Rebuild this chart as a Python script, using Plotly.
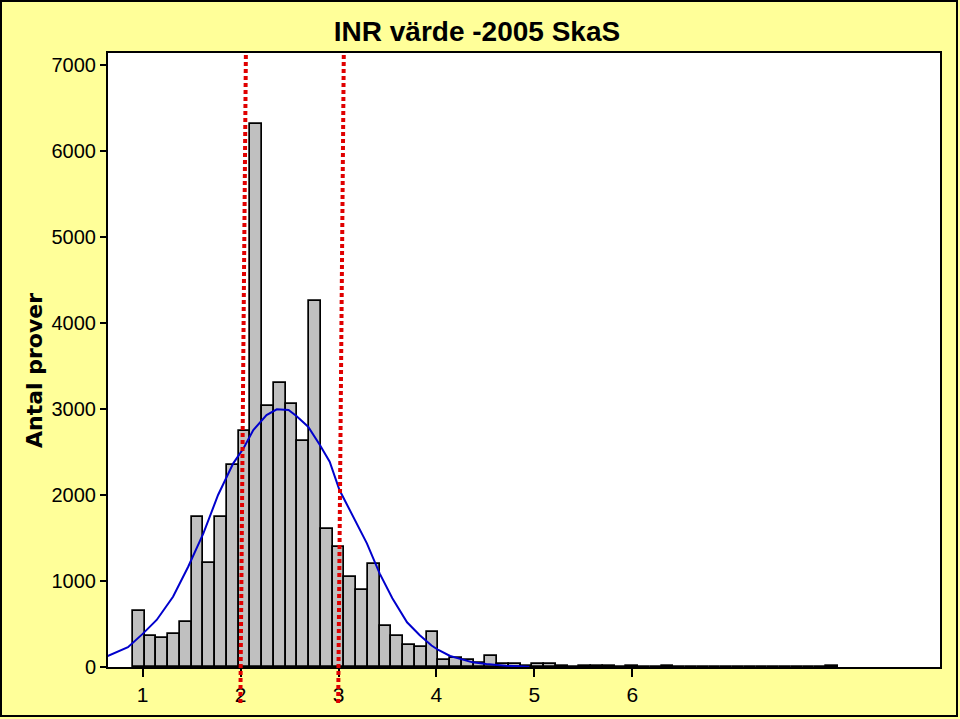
import plotly.graph_objects as go

# ---- data ----
title_text = "INR värde -2005 SkaS"
y_title = "Antal prover"

# histogram bins of INR value (bin width 0.12) -> centres
bin_width = 0.12
bin_centers = [0.96, 1.08, 1.20, 1.32, 1.44, 1.56, 1.68, 1.80, 1.92, 2.04,
               2.16, 2.28, 2.40, 2.52, 2.64, 2.76, 2.88, 3.00, 3.12, 3.24,
               3.36, 3.48, 3.60, 3.72, 3.84, 3.96, 4.08, 4.20, 4.32, 4.44,
               4.56, 4.68, 4.80, 4.92, 5.04, 5.16, 5.28, 5.40, 5.52, 5.64,
               5.76, 5.88, 6.00, 6.12, 6.24, 6.36, 6.48, 6.60, 6.72, 6.84,
               6.96, 7.08, 7.20, 7.32, 7.44, 7.56, 7.68, 7.80, 7.92, 8.04]
counts = [648, 362, 338, 385, 518, 1740, 1215, 1740, 2345, 2740,
          6315, 3035, 3300, 3060, 2630, 4255, 1610, 1392, 1042, 890,
          1195, 478, 363, 256, 236, 406, 80, 102, 84, 52,
          126, 40, 40, 16, 40, 40, 14, 4, 12, 12,
          12, 0, 12, 0, 0, 12, 0, 0, 0, 0,
          0, 0, 0, 0, 0, 0, 0, 0, 0, 12]

# fitted curve (blue)
curve_x = [0.639, 0.85, 1.00, 1.143, 1.31, 1.465, 1.62, 1.77, 1.925, 2.03,
           2.13, 2.265, 2.37, 2.49, 2.57, 2.69, 2.81, 2.91, 3.01, 3.15,
           3.29, 3.42, 3.55, 3.70, 3.83, 3.95, 4.02, 4.14, 4.26, 4.37,
           4.51, 4.71, 4.95]
curve_y = [125, 230, 385, 547, 817, 1166, 1554, 2000, 2368, 2543,
           2756, 2930, 2996, 2988, 2919, 2794, 2581, 2387, 2058, 1748,
           1438, 1089, 800, 520, 370, 250, 198, 128, 89, 54,
           35, 15, 2]

# red dotted reference lines (INR 2 and 3), slightly slanted: x at top / bottom
ref_top_x = [2.054, 3.054]
ref_bottom_x = [1.998, 2.997]

x_ticks = [1, 2, 3, 4, 5, 6]
y_ticks = [0, 1000, 2000, 3000, 4000, 5000, 6000, 7000]
x_range = [0.646, 9.143]
y_range = [0, 7140]

# ---- figure ----
W, H = 960, 719
ML, MR, MT, MB = 108, 20, 53, 52
pw, ph = W - ML - MR, H - MT - MB

def px_to_paper_x(px):
    return (px - ML) / pw

def px_to_paper_y(py):
    return (H - MB - py) / ph

fig = go.Figure()
fig.add_trace(go.Bar(
    x=bin_centers, y=counts, width=bin_width,
    marker=dict(color="#C0C0C0", line=dict(color="black", width=1.7)),
    hoverinfo="x+y", showlegend=False,
))
fig.add_trace(go.Scatter(
    x=curve_x, y=curve_y, mode="lines",
    line=dict(color="#0000CC", width=2), showlegend=False,
))

shapes = []
for xt, xb in zip(ref_top_x, ref_bottom_x):
    shapes.append(dict(type="line", xref="x", yref="paper",
                       x0=xt, y0=px_to_paper_y(55), x1=xb, y1=px_to_paper_y(703),
                       line=dict(color="#E00000", width=4, dash="4px,3px"),
                       layer="above"))
# outer frame of the picture
shapes.append(dict(type="rect", xref="paper", yref="paper",
                   x0=px_to_paper_x(1), x1=px_to_paper_x(957),
                   y0=px_to_paper_y(716), y1=px_to_paper_y(1),
                   line=dict(color="black", width=2), layer="above"))

fig.update_layout(
    width=W, height=H,
    margin=dict(l=ML, r=MR, t=MT, b=MB, pad=0),
    paper_bgcolor="#FFFF99", plot_bgcolor="white",
    bargap=0,
    title=dict(text=title_text, x=477 / W, xref="container", xanchor="center",
               y=1 - 31 / H, yref="container", yanchor="middle",
               font=dict(family="Liberation Sans Narrow, Liberation Sans, Arial",
                         size=28, color="black", weight="bold")),
    shapes=shapes,
    annotations=[dict(text=y_title, textangle=-90, xref="paper", yref="paper",
                      x=px_to_paper_x(34), y=px_to_paper_y(371),
                      xanchor="center", yanchor="middle", showarrow=False,
                      font=dict(family="DejaVu Sans", size=22, color="black",
                                weight="bold"))],
)
fig.update_xaxes(range=x_range, tickmode="array", tickvals=x_ticks,
                 ticks="outside", ticklen=8, tickwidth=1.5, tickcolor="black",
                 showline=True, linecolor="black", linewidth=2, mirror=True,
                 showgrid=False, zeroline=False,
                 tickfont=dict(family="Liberation Sans, Arial", size=21, color="black"))
fig.update_yaxes(range=y_range, tickmode="array", tickvals=y_ticks,
                 ticks="outside", ticklen=6, tickwidth=1.5, tickcolor="black",
                 showline=True, linecolor="black", linewidth=2, mirror=True,
                 showgrid=False, zeroline=False,
                 tickfont=dict(family="Liberation Sans, Arial", size=20, color="black"))

fig.write_html("out.html",
               config={"displayModeBar": False},
               post_script="document.body.style.margin='0';"
                           "document.body.style.overflow='hidden';")
